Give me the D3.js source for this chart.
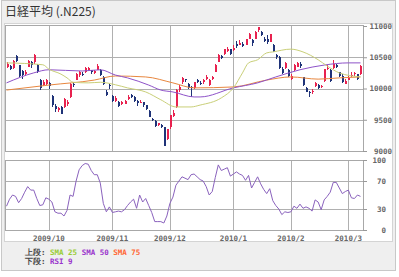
<!DOCTYPE html>
<html>
<head>
<meta charset="utf-8">
<script src="https://cdn.jsdelivr.net/npm/d3@7"></script>
<style>
  body { margin: 0; background: #fff; }
  svg { display: block; }
  text { font-family: "DejaVu Sans Mono", monospace; }
</style>
</head>
<body>
<div class="container"></div>
<script>
// trading days (2009/09/08 .. 2010/03/05), index = x position
const dates = ("09/08 09/09 09/10 09/11 09/14 09/15 09/16 09/17 09/18 09/24 09/25 09/28 09/29 09/30 " +
  "10/01 10/02 10/05 10/06 10/07 10/08 10/09 10/13 10/14 10/15 10/16 10/19 10/20 10/21 10/22 10/23 10/26 10/27 10/28 10/29 10/30 " +
  "11/02 11/04 11/05 11/06 11/09 11/10 11/11 11/12 11/13 11/16 11/17 11/18 11/19 11/20 11/24 11/25 11/26 11/27 11/30 " +
  "12/01 12/02 12/03 12/04 12/07 12/08 12/09 12/10 12/11 12/14 12/15 12/16 12/17 12/18 12/21 12/22 12/24 12/25 12/28 12/29 12/30 " +
  "01/04 01/05 01/06 01/07 01/08 01/12 01/13 01/14 01/15 01/18 01/19 01/20 01/21 01/22 01/25 01/26 01/27 01/28 01/29 " +
  "02/01 02/02 02/03 02/04 02/05 02/08 02/09 02/10 02/12 02/15 02/16 02/17 02/18 02/19 02/22 02/23 02/24 02/25 02/26 " +
  "03/01 03/02 03/03 03/04 03/05").split(" ");

const open = [10340,10360,10330,10520,10380,10280,10230,10350,10420,10420,10380,10140,10060,10080,
  10090,9880,9720,9650,9700,9700,9750,9860,10080,10140,10210,10240,10260,10300,10290,10250,10300,10300,10180,9950,10060,
  9880,9800,9780,9760,9760,9830,9900,9870,9800,9780,9780,9730,9640,9520,9480,9420,9420,9380,9200,
  9380,9560,9700,9970,10100,10150,10080,10030,10010,10140,10090,10100,10150,10060,10160,10270,10430,10520,10560,10600,10630,
  10610,10720,10700,10720,10700,10800,10780,10800,10930,10900,10800,10800,10750,10700,10530,10500,10310,10330,10300,
  10150,10290,10350,10400,10180,10010,9950,9940,10040,10050,10030,10120,10320,10300,10330,10380,10260,10200,10080,
  10140,10200,10230,10230,10230];
const high = [10420,10370,10460,10530,10380,10300,10300,10460,10440,10560,10400,10150,10140,10160,
  10100,9890,9760,9700,9720,9850,9820,10090,10100,10250,10280,10260,10340,10350,10300,10300,10390,10310,10200,9980,10080,
  9900,9880,9800,9800,9820,9900,9920,9880,9810,9820,9790,9740,9650,9530,9490,9450,9430,9390,9350,
  9580,9650,9990,10050,10180,10160,10090,10040,10110,10160,10120,10150,10220,10150,10200,10390,10550,10540,10640,10660,10640,
  10700,10760,10770,10740,10800,10890,10790,10920,10982,10920,10820,10850,10880,10710,10560,10520,10340,10430,10310,
  10230,10390,10430,10420,10190,10020,9960,10000,10100,10070,10050,10320,10370,10310,10450,10400,10270,10230,10150,
  10200,10260,10270,10240,10380];
const low = [10330,10290,10320,10420,10190,10160,10200,10340,10330,10400,10250,9980,10040,10060,
  10000,9700,9630,9620,9590,9690,9720,9850,10030,10130,10190,10200,10250,10280,10230,10240,10290,10200,10060,9880,10000,
  9780,9790,9700,9740,9750,9820,9850,9790,9720,9770,9700,9660,9540,9480,9390,9400,9370,9076,9180,
  9360,9540,9690,9950,10080,10100,9990,9870,10000,10090,10060,10080,10140,10040,10130,10260,10420,10470,10540,10590,10530,
  10600,10650,10690,10660,10690,10790,10680,10790,10900,10840,10750,10720,10740,10580,10480,10310,10240,10320,10190,
  10140,10280,10340,10330,10040,9940,9868,9920,10020,10000,10010,10110,10290,10100,10320,10330,10180,10090,10070,
  10130,10180,10200,10140,10220];
const close = [10393,10312,10445,10444,10202,10217,10270,10443,10370,10544,10265,10009,10100,10133,
  10034,9731,9674,9691,9599,9832,9790,10076,10060,10238,10258,10236,10336,10333,10267,10282,10362,10212,10075,9891,10034,
  9802,9844,9717,9789,9808,9870,9871,9804,9770,9791,9731,9676,9549,9497,9401,9441,9383,9081,9345,
  9572,9608,9977,10022,10167,10140,10004,10002,10107,10105,10083,10138,10177,10142,10183,10378,10536,10494,10634,10639,10546,
  10654,10681,10731,10681,10798,10879,10735,10907,10982,10855,10764,10737,10868,10590,10512,10325,10252,10414,10198,
  10205,10371,10404,10355,10057,9951,9932,9963,10092,10013,10034,10306,10335,10123,10400,10352,10198,10101,10126,
  10172,10221,10253,10145,10368];

// moving averages: [day index, value]
const sma25 = [[0,10410],[12,10380],[14,10310],[18,10230],[20,10170],[22,10100],[27,10090],[31,10100],[36,10060],
  [40,10010],[46,9945],[51,9820],[56,9705],[61,9705],[64,9735],[71,9850],[75,10010],[78,10250],[80,10410],[83,10460],
  [86,10570],[88,10585],[94,10630],[98,10585],[103,10460],[106,10360],[110,10250],[117,10185]];
const sma50 = [[0,10090],[9,10250],[14,10300],[25,10280],[31,10300],[36,10215],[40,10170],[47,10055],[51,9975],
  [55,9945],[62,9865],[64,9865],[75,10010],[83,10090],[89,10185],[97,10300],[105,10375],[113,10410],[117,10410]];
const sma75 = [[0,9975],[14,10055],[29,10135],[36,10200],[46,10185],[55,10090],[62,10010],[75,10025],[86,10135],
  [94,10185],[103,10150],[110,10170],[117,10185]];

const rsi9 = [34,44,50,48,39,45,54,62,57,57,45,35,36,46,
  44,40,26,24,24,20,28,50,48,70,86,92,95,94,85,79,79,67,38,26,33,
  25,26,27,26,29,35,40,44,31,50,40,45,35,25,12,12,12,10,20,
  38,47,64,70,76,74,72,79,80,76,72,70,62,50,55,75,93,85,87,89,77,
  80,83,80,78,71,78,60,68,76,66,58,52,59,42,35,30,22,26,25,
  26,34,31,37,31,33,31,27,43,40,29,43,48,54,68,68,60,52,55,
  57,46,45,50,48];

const monthTicks = [14, 35, 54, 75, 94, 113];
const monthLabels = ["2009/10", "2009/11", "2009/12", "2010/1", "2010/2", "2010/3"];
const priceTicks = [9000, 9500, 10000, 10500, 11000];
const rsiTicks = [0, 30, 70, 100];

const WIDTH = 399, HEIGHT = 277;
const UP = "#e8224f", DOWN = "#1f3378";
const GRID = "#b0b0b0";

const svg = d3.select(".container").append("svg")
  .attr("width", WIDTH).attr("height", HEIGHT)
  .attr("viewBox", [0, 0, WIDTH, HEIGHT]);

// frame
svg.append("rect").attr("x", 1.5).attr("y", 0.5).attr("width", 394).attr("height", 270)
  .attr("fill", "#efefef").attr("stroke", "#c8c8c8");
svg.append("rect").attr("x", 4.5).attr("y", 23.5).attr("width", 388).attr("height", 218)
  .attr("fill", "#fff").attr("stroke", "#d4d4d4");
svg.append("text").attr("x", 5).attr("y", 16)
  .style("font-family", "'Noto Sans CJK JP', sans-serif").attr("font-size", 12)
  .attr("fill", "#333").text("日経平均 (.N225)");

const x = d3.scaleBand().domain(d3.range(close.length)).range([5, 362]);
const cx = (i) => Math.round(x(i) + x.bandwidth() / 2) + 0.5;
const y = d3.scaleLinear().domain([9000, 11000]).range([151, 26]);
const yR = d3.scaleLinear().domain([0, 100]).range([230, 160]);

// gridlines
function panel(yScale, hLines, top, bottom) {
  const g = svg.append("g").attr("stroke", GRID).attr("shape-rendering", "crispEdges");
  g.selectAll(".h").data(hLines).join("line")
    .attr("x1", 5).attr("x2", 363)
    .attr("y1", (d) => Math.round(yScale(d)) + 0.5).attr("y2", (d) => Math.round(yScale(d)) + 0.5);
  g.selectAll(".v").data(monthTicks).join("line")
    .attr("x1", (d) => cx(d)).attr("x2", (d) => cx(d))
    .attr("y1", top).attr("y2", bottom);
  g.append("rect").attr("x", 5.5).attr("y", top + 0.5)
    .attr("width", 357.5).attr("height", bottom - top).attr("fill", "none").attr("stroke", "#a8a8a8");
}
panel(y, [9500, 10000, 10500], 25, 151);
panel(yR, [30, 70], 160, 230);

// candles
const candles = svg.append("g").attr("shape-rendering", "crispEdges");
candles.selectAll("line").data(close).join("line")
  .attr("x1", (d, i) => cx(i)).attr("x2", (d, i) => cx(i))
  .attr("y1", (d, i) => y(high[i])).attr("y2", (d, i) => y(low[i]))
  .attr("stroke", (d, i) => (d >= open[i] ? UP : DOWN));
candles.selectAll("rect").data(close).join("rect")
  .attr("x", (d, i) => cx(i) - 1)
  .attr("y", (d, i) => y(Math.max(d, open[i])))
  .attr("width", 2)
  .attr("height", (d, i) => Math.max(1, Math.abs(y(d) - y(open[i]))))
  .attr("fill", (d, i) => (d >= open[i] ? UP : DOWN));

// moving averages
const maLine = d3.line().x((d) => x(d[0]) + x.bandwidth() / 2).y((d) => y(d[1])).curve(d3.curveMonotoneX);
[[sma75, "#e8873f"], [sma50, "#8e52c8"], [sma25, "#c9cf78"]].forEach(([data, color]) => {
  svg.append("path").attr("d", maLine(data)).attr("fill", "none")
    .attr("stroke", color).attr("stroke-width", 1);
});

// rsi
svg.append("path")
  .attr("d", d3.line().x((d, i) => x(i) + x.bandwidth() / 2).y((d) => yR(d))(rsi9))
  .attr("fill", "none").attr("stroke", "#8a62bd").attr("stroke-width", 1);

// axes
const axisStyle = (g) => {
  g.select(".domain").remove();
  g.selectAll(".tick line").attr("stroke", "#999");
  g.selectAll(".tick text").attr("font-family", "'DejaVu Sans Mono', monospace")
    .attr("font-weight", "bold").attr("font-size", 7.5).attr("fill", "#666");
};
svg.append("g").attr("transform", "translate(363,0)")
  .call(d3.axisRight(y).tickValues(priceTicks).tickSize(4).tickPadding(25).tickFormat(d3.format("d")))
  .call(axisStyle)
  .call((g) => g.selectAll(".tick text").attr("text-anchor", "end"));
svg.append("g").attr("transform", "translate(363,0)")
  .call(d3.axisRight(yR).tickValues(rsiTicks).tickSize(4).tickPadding(19))
  .call(axisStyle)
  .call((g) => g.selectAll(".tick text").attr("text-anchor", "end"));
svg.append("g").attr("transform", "translate(0,230)")
  .call(d3.axisBottom(x).tickValues(monthTicks).tickSize(0).tickPadding(6)
    .tickFormat((d, i) => monthLabels[i]))
  .call(axisStyle);

// legend
const legend = svg.append("g").attr("font-size", 7.5).attr("font-weight", "bold")
  .style("font-family", "'Noto Sans CJK JP', sans-serif");
const row1 = legend.append("text").attr("x", 25).attr("y", 255);
row1.append("tspan").attr("fill", "#444").text("上段: ");
row1.append("tspan").attr("fill", "#99cc33").text("SMA 25 ");
row1.append("tspan").attr("fill", "#9933cc").text("SMA 50 ");
row1.append("tspan").attr("fill", "#ff6633").text("SMA 75");
const row2 = legend.append("text").attr("x", 25).attr("y", 264);
row2.append("tspan").attr("fill", "#444").text("下段: ");
row2.append("tspan").attr("fill", "#9933cc").text("RSI 9");
</script>
</body>
</html>
